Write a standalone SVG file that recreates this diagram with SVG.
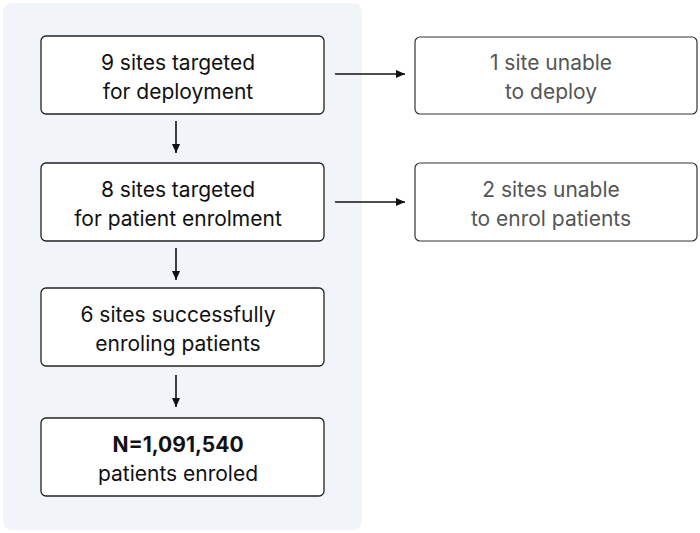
<svg xmlns="http://www.w3.org/2000/svg" width="700" height="533" viewBox="0 0 700 533">
<style>
.box{fill:#fff;stroke:#222;stroke-width:1.3}
.side{fill:#fff;stroke:#333;stroke-width:1.2}
.t{font-family:Inter,"Noto Sans",sans-serif;font-size:21px;fill:#111;text-anchor:middle}
.g{fill:#555}
.b{font-weight:700}
.c{stroke:#111;stroke-width:1.6;fill:none;marker-end:url(#ah)}
</style>
<defs>
<marker id="ah" viewBox="0 0 10 10" refX="10" refY="5" markerWidth="9" markerHeight="9" orient="auto" markerUnits="userSpaceOnUse">
<path d="M0,0.5 L10,5 L0,9.5 z" fill="#111"/>
</marker>
</defs>
<rect x="3" y="3" width="359" height="527" rx="9" fill="#f1f4f8"/>
<g id="connectors">
<line class="c" x1="176" y1="121" x2="176" y2="153"/>
<line class="c" x1="176" y1="248" x2="176" y2="280"/>
<line class="c" x1="176" y1="375" x2="176" y2="407"/>
<line class="c" x1="335" y1="74" x2="405" y2="74"/>
<line class="c" x1="335" y1="202" x2="405" y2="202"/>
</g>
<g id="n1">
<rect class="box" x="41" y="36" width="283" height="78" rx="5"/>
<text class="t" x="178" y="70">9 sites targeted</text>
<text class="t" x="178" y="99">for deployment</text>
</g>
<g id="n2">
<rect class="box" x="41" y="163" width="283" height="78" rx="5"/>
<text class="t" x="178" y="197">8 sites targeted</text>
<text class="t" x="178" y="226">for patient enrolment</text>
</g>
<g id="n3">
<rect class="box" x="41" y="288" width="283" height="78" rx="5"/>
<text class="t" x="178" y="322">6 sites successfully</text>
<text class="t" x="178" y="351">enroling patients</text>
</g>
<g id="n4">
<rect class="box" x="41" y="418" width="283" height="78" rx="5"/>
<text class="t b" x="178" y="452">N=1,091,540</text>
<text class="t" x="178" y="481">patients enroled</text>
</g>
<g id="s1">
<rect class="side" x="415" y="37" width="282" height="77" rx="5"/>
<text class="t g" x="551" y="70">1 site unable</text>
<text class="t g" x="551" y="99">to deploy</text>
</g>
<g id="s2">
<rect class="side" x="415" y="163" width="282" height="78" rx="5"/>
<text class="t g" x="551" y="197">2 sites unable</text>
<text class="t g" x="551" y="226">to enrol patients</text>
</g>
</svg>
